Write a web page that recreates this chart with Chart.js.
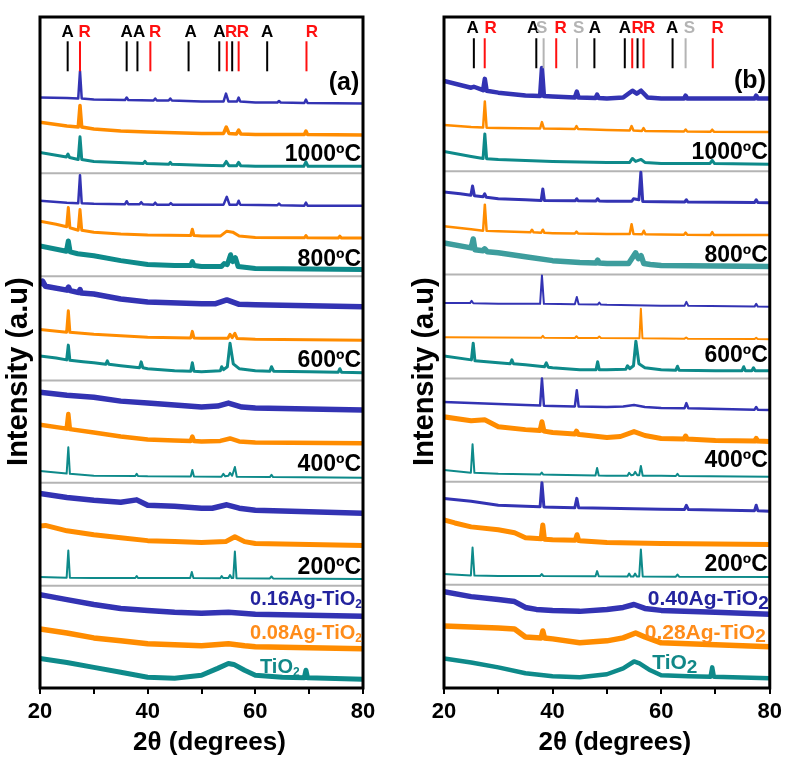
<!DOCTYPE html>
<html><head><meta charset="utf-8">
<script src="https://cdn.jsdelivr.net/npm/chart.js@4.4.1/dist/chart.umd.min.js"></script>
<style>
html,body{margin:0;padding:0;background:#fff;}
#wrap{position:relative;width:787px;height:758px;overflow:hidden;background:#fff;}
#ca{position:absolute;left:0;top:0;width:400px;height:758px;}
#cb{position:absolute;left:400px;top:0;width:387px;height:758px;}
</style></head><body>
<div id="wrap"><canvas id="ca" width="400" height="758"></canvas><canvas id="cb" width="387" height="758"></canvas></div>
<script>
// ---------------- DATA : panel (a) ----------------
const A_1000_blue = [[20,601],[25,600.5],[27.1,600],[27.43,628],[27.75,600],[30,599],[35.8,598.5],[36.1,601],[36.4,598.5],[41.1,598],[41.4,600],[41.7,598],[43.9,598],[44.2,600],[44.5,598],[50,597],[54.1,597],[54.55,605],[55.0,597],[56.6,597],[56.9,601],[57.2,597],[60,596],[64.1,596],[64.4,597.5],[64.7,596],[69.1,595.5],[69.4,599],[69.7,595.5],[80,595]];
const A_1000_orange = [[20,576],[25,572],[27.1,571],[27.43,593],[27.75,571],[30,569],[35,567],[40,566],[50,564.5],[54.1,564.5],[54.6,571],[55.1,564.5],[56.5,564],[56.9,568],[57.3,564],[60,563.5],[69.1,563.5],[69.4,567],[69.7,563.5],[80,563]];
const A_1000_teal = [[20,545],[24.9,540.5],[25.2,543.5],[25.5,540],[27.1,538],[27.43,561],[27.75,538],[30,536],[39.2,534],[39.5,536],[39.8,534],[43.9,533],[44.2,535],[44.5,533],[50,532],[54.1,531.5],[54.6,536],[55.1,531.5],[56.5,531.5],[56.9,535],[57.3,531.5],[60,531],[69.0,531],[69.4,535.5],[69.8,531],[80,531]];
const A_800_blue = [[20,496],[25,494],[27.1,493.5],[27.43,522],[27.75,493.5],[30,493],[35.8,492.5],[36.1,495.5],[36.4,492.5],[38.5,492.5],[38.8,494.5],[39.1,492.5],[41.1,492],[41.4,494],[41.7,492],[44.0,492],[44.3,493.5],[44.6,492],[50,492],[54.1,492],[54.7,500],[55.2,492],[56.6,492],[56.9,496],[57.2,492],[64.1,491.5],[64.4,493],[64.7,491.5],[69.1,491],[69.4,494],[69.7,491],[80,491]];
const A_800_orange = [[20,475],[23,472],[24.95,469.5],[25.26,489],[25.55,468.5],[27.1,466],[27.43,487],[27.75,466],[30,464],[35,462],[40,461],[48.0,460.5],[48.3,467],[48.6,460.5],[50,460],[53.5,460],[54.7,465],[55.8,464],[57,460],[60,458.5],[69.1,458.2],[69.4,460.5],[69.7,458.2],[75.4,458],[75.7,460],[76,458],[80,458]];
const A_800_teal = [[20,450],[24.9,444.5],[25.26,455],[25.6,444],[27,442],[30,440],[35,435],[40,431],[45,430],[48.0,430],[48.3,434],[48.6,430],[50,429],[53.7,429],[54.2,432],[54.8,431],[55.4,441],[55.8,434],[56.3,438],[56.8,429],[60,427],[80,426]];
const A_600_blue = [[20,410],[20.5,414],[21,409],[25,405],[25.3,408],[25.6,404.5],[27.2,402.5],[27.43,405.5],[27.7,402],[30,401],[35,396],[40,393],[50,391],[52.5,391],[54.7,395],[57,390.5],[60,390],[80,388]];
const A_600_orange = [[20,365],[24.95,362.2],[25.26,384],[25.55,362],[30,360],[40,357],[48.0,356.3],[48.3,363],[48.6,356.3],[50,356],[54.9,356],[55.3,360],[55.7,356.5],[56.2,361],[56.6,355.8],[60,355],[80,354]];
const A_600_teal = [[20,338],[23,336],[24.95,334],[25.26,349],[25.55,333.5],[28,332],[30,331],[32.2,329.5],[32.5,333],[32.8,329.5],[35,328],[38.5,326],[38.8,332],[39.1,326],[40,325],[45,323],[48.0,322.5],[48.3,331],[48.6,322.5],[50,322],[53.5,323],[53.75,327],[54.1,324],[54.8,327],[55.3,351],[55.9,330],[57,325],[60,323],[62.7,322.5],[63,327],[63.4,322.5],[70,322],[75.4,321.5],[75.7,325],[76,321.5],[80,321]];
const A_400_blue = [[20,301],[25,298],[30,296],[35,292],[40,290],[45,288],[50,286],[53,287],[55,290],[57.5,286],[60,285],[80,283]];
const A_400_orange = [[20,268],[24.95,264],[25.26,279],[25.55,263.5],[30,260],[35,256],[40,253],[45,252],[48.0,251.5],[48.3,256],[48.6,251.5],[50,251],[53.5,251.5],[55.3,254],[57,251],[60,250],[80,249]];
const A_400_teal = [[20,221],[24.95,218.3],[25.26,245],[25.55,218],[30,216],[37.7,215.8],[37.96,218],[38.2,215.8],[40,215.5],[48.0,215.2],[48.3,222],[48.6,215.2],[53.7,215],[54.06,218],[54.4,215.5],[55.0,216],[55.3,219],[55.7,216],[56.2,225],[56.55,215],[62.7,214.7],[63,217],[63.3,214.7],[80,214]];
const A_200_blue = [[20,198],[25,194],[30,191],[35,189],[37.96,191.5],[40,186],[45,185],[50,183],[52,183],[54.7,186.5],[57,183],[60,181],[80,178]];
const A_200_orange = [[20,165],[21,165.5],[25,160],[30,156],[35,153],[40,150],[45,149],[50,148],[54.5,149],[56.2,154],[58,149],[60,147],[80,145]];
const A_200_teal = [[20,113],[24.95,112.3],[25.26,140],[25.55,112.2],[30,112],[37.7,112],[37.96,114],[38.2,112],[47.9,112],[48.2,118],[48.5,112],[53.5,111.8],[53.75,114],[54,112],[55.0,112],[55.3,115],[55.6,112],[55.9,112],[56.2,139],[56.5,111.8],[62.7,111.5],[63,113.5],[63.3,111.5],[80,111]];
const A_raw_blue = [[20,95],[22,93],[25,90],[30,85],[35,81],[40,79],[45,77],[50,76],[55,77],[60,75],[70,74],[80,73]];
const A_raw_orange = [[20,60],[25,56],[30,51],[35,48],[40,45],[45,44],[50,43],[55,45],[58,43],[60,42],[70,41],[80,40]];
const A_raw_teal = [[20,30],[25,26],[30,21],[35,16],[40,11],[45,10],[50,13],[53,20],[55,25],[56,24],[58,18],[60,13],[65,11],[69.1,10.5],[69.4,18],[69.7,10.5],[80,9]];

const A_sep = [524, 419, 313, 209, 104];
const A_refA = [25.14, 36.1, 38.1, 47.6, 53.3, 55.7, 62.2];
const A_refR = [27.43, 40.5, 54.7, 56.9, 69.5];
const A_refS = [];
const A_refLabels = [['A',25.14],['R',28.3],['A',36.1],['A',38.4],['R',41.4],['A',48.0],['A',53.3],['R',55.5],['R',57.7],['A',62.2],['R',70.5]];
const A_temps = [['1000ºC',543],['800ºC',436],['600ºC',333],['400ºC',227],['200ºC',123]];
const A_comps = [['0.16Ag-TiO','2',90,'blue'],['0.08Ag-TiO','2',55,'orange'],['TiO','2',21,'teal']];

// ---------------- DATA : panel (b) ----------------
const B_1000_blue = [[20,618],[25,611],[25.5,612],[27.2,608.5],[27.52,620],[27.85,608],[30,606],[35,603],[37.7,602.5],[38.04,631],[38.4,602.5],[40,602],[44.1,601],[44.46,607],[44.8,601],[47.9,600.5],[48.2,604],[48.5,600.5],[50,600],[53,601],[54.7,608],[55.5,605],[56.3,608],[57.5,601],[60,600],[64.2,600],[64.5,603],[64.8,600],[77.2,600],[77.5,603],[77.8,600],[80,600]];
const B_1000_orange = [[20,573],[25,571],[27.2,570.5],[27.52,597],[27.85,570.3],[30,570],[37.7,569.5],[38.04,576],[38.4,569.5],[44.1,569],[44.4,572],[44.7,569],[50,568],[54.2,567.5],[54.55,572],[54.9,567.5],[56.45,567],[56.75,570],[57.05,567],[64.2,566.5],[64.5,568.5],[64.8,566.5],[69.1,566.3],[69.4,568.3],[69.7,566.3],[80,566]];
const B_1000_teal = [[20,546],[25,541],[27.2,539],[27.52,564],[27.85,538.8],[30,538],[35,537],[40,536],[50,535],[54.2,535],[54.7,539],[55.3,536],[56.3,538],[57,535],[60,534],[69.0,534],[69.4,537],[69.8,534],[80,533]];
const B_800_blue = [[20,505],[23,503],[24.95,501.5],[25.26,511],[25.6,501],[27.2,500],[27.5,503],[27.8,499.5],[30,498],[35,497],[37.9,496.3],[38.2,508],[38.5,496.3],[44.2,496],[44.46,498],[44.7,496],[48.0,495.8],[48.3,498],[48.6,495.8],[50,495.5],[54.6,495.5],[54.9,498],[55.9,497],[56.26,525],[56.6,495.2],[60,495],[64.35,494.8],[64.64,497],[64.9,494.8],[77.2,494.2],[77.5,497],[77.8,494.2],[80,494]];
const B_800_orange = [[20,470],[25,467],[27.2,465.5],[27.52,492],[27.85,465.3],[30,465],[35.9,463.8],[36.2,466.5],[36.5,463.8],[37.9,463.4],[38.2,466.5],[38.5,463.3],[40,463],[44.1,462.6],[44.4,464.5],[44.7,462.6],[50,462],[54.2,462],[54.55,472],[54.9,462],[56.5,461.8],[56.8,465.5],[57.1,461.8],[60,461.5],[64.2,461.4],[64.5,463.5],[64.8,461.4],[69.1,461.2],[69.4,464],[69.7,461.2],[80,461]];
const B_800_teal = [[20,453],[25,448],[25.38,457],[25.7,446],[27.2,445],[27.5,447],[28,444],[30,443],[35,439],[40,435],[45,433],[48.0,432.5],[48.3,435.5],[48.6,432.5],[50,432],[54,432],[55.3,443],[55.8,437],[56.3,440],[56.8,432],[58,431],[60,430],[80,429]];
const B_600_blue = [[20,392],[24.8,391.8],[25.08,394],[25.4,391.6],[30,391],[37.7,391],[38.04,420],[38.4,391],[44.1,390.6],[44.46,398],[44.8,390.5],[48.3,390.3],[48.6,392.3],[48.9,390.3],[50,390],[60,389],[64.3,389],[64.64,393],[65.0,389],[77.2,388.2],[77.5,391],[77.8,388.2],[80,388]];
const B_600_orange = [[20,357],[37.9,356.5],[38.2,358.5],[38.5,356.5],[44.1,356.3],[44.4,358],[44.7,356.3],[48.3,356.2],[48.6,357.7],[48.9,356.2],[56.0,356],[56.26,386],[56.55,356],[64.3,355.6],[64.6,356.8],[64.9,355.6],[77.2,355.2],[77.5,356.4],[77.8,355.2],[80,355]];
const B_600_teal = [[20,338],[25.05,334],[25.38,351],[25.7,333],[30,331],[32.2,330],[32.5,334],[32.8,330],[35,329],[38.5,327],[38.84,331],[39.2,326.5],[40,326],[45,324],[48.0,324],[48.3,332],[48.6,324],[50,324],[53.5,324.5],[53.8,328],[54.2,325],[54.9,328],[55.34,353],[55.9,330],[57,326],[60,324],[62.7,323.5],[63,327.5],[63.3,323.5],[70,323],[74.9,323],[75.2,327],[75.5,323],[76.7,323],[77,326],[77.3,323],[80,323]];
const B_400_blue = [[20,291],[25,290],[30,289],[35,288],[37.7,287.5],[38.04,315],[38.4,287.3],[40,287],[44.1,286.6],[44.46,303],[44.8,286.5],[50,286],[53,286.5],[55,288],[57,286],[60,285],[64.3,284.8],[64.64,290],[65,284.8],[77.2,283.3],[77.5,286],[77.8,283.3],[80,283]];
const B_400_orange = [[20,276],[25,272],[27.5,273],[30,266],[35,263],[37.7,262],[38.04,271],[38.4,261.5],[40,260],[44.1,258.5],[44.4,261.5],[44.7,258.3],[45,258],[50,255],[52.5,256],[55,261],[57,257],[58,256],[60,254],[64.2,253.5],[64.5,256.5],[64.8,253.5],[70,252],[77.2,251.3],[77.5,254],[77.8,251.3],[80,251]];
const B_400_teal = [[20,222],[24.95,219.2],[25.26,248],[25.6,219],[30,218],[37.7,217.3],[38,219.3],[38.3,217.3],[40,217],[47.9,216.3],[48.2,224],[48.5,216.3],[50,216],[53.8,216],[54.1,219],[54.5,216.5],[54.9,217],[55.2,220],[55.6,216.5],[55.95,216.5],[56.26,226],[56.6,216],[60,216],[62.7,215.8],[63,218],[63.3,215.8],[80,215]];
const B_200_blue = [[20,193],[25,190],[30,186],[35,185],[37.7,184.5],[38.04,209],[38.4,184.3],[40,184],[44.1,183.6],[44.46,193],[44.8,183.5],[50,183],[60,182],[64.3,181.8],[64.64,186],[65,181.8],[77.2,180.5],[77.5,186],[77.8,180.5],[80,180]];
const B_200_orange = [[20,171],[22,168],[25,164],[30,161],[33,158],[35,153],[37.9,152],[38.2,166],[38.5,151.5],[40,151],[44.2,150.5],[44.5,156],[44.8,150.2],[45,150],[50,148],[60,147],[80,146]];
const B_200_teal = [[20,116],[24.95,114.6],[25.26,143],[25.6,114.4],[30,114],[37.7,114],[38,116],[38.3,114],[47.9,113.8],[48.2,119],[48.5,113.8],[53.8,113.6],[54.1,116.5],[54.4,113.6],[54.9,113.6],[55.2,116.5],[55.5,113.6],[55.95,113.5],[56.26,141],[56.6,113.5],[62.7,113.3],[63,115.5],[63.3,113.3],[80,113]];
const B_raw_blue = [[20,98],[25,93],[30,90],[33,88],[35,82],[37,80],[40,79],[45,78],[50,80],[53,82],[55,85],[57,81],[60,79],[70,77],[80,75]];
const B_raw_orange = [[20,63],[25,62],[30,61],[33,60],[35,52],[37.9,51],[38.2,58],[38.5,51],[40,50],[45,46],[50,48],[53,51],[55.3,56],[57,52],[60,46],[70,44],[80,42]];
const B_raw_teal = [[20,30],[25,26],[30,21],[35,15],[40,12],[45,11],[50,14],[53,20],[55,27],[56,25],[58,18],[60,13],[65,12],[69.1,11.5],[69.4,21],[69.7,11.5],[80,10]];

const B_sep = [526, 421, 315, 210, 105];
const B_refA = [25.5, 37.0, 47.7, 53.3, 55.65, 62.1];
const B_refR = [27.5, 40.67, 54.67, 56.75, 69.5];
const B_refS = [38.35, 44.5, 64.5];
const B_refLabels = [['A',25.26],['R',28.6],['A',36.4],['S',38.0],['R',41.5],['S',44.8],['A',47.8],['A',53.3],['R',55.65],['R',57.8],['A',62.0],['S',65.2],['R',70.4]];
const B_temps = [['1000ºC',545],['800ºC',440],['600ºC',338],['400ºC',231],['200ºC',126]];
const B_comps = [['0.40Ag-TiO','2',90,'blue'],['0.28Ag-TiO','2',56,'orange'],['TiO','2',25,'teal']];

const X_TITLE = '2θ (degrees)';
const Y_TITLE = 'Intensity (a.u)';

// ---------------- STYLE ----------------
const FONT = "'Liberation Sans', Arial, Helvetica, sans-serif";
const COL = {blue:'#3333b3', orange:'#ff8c00', teal:'#0e8a8a', tealLight:'#3d9d9d'};
const LABCOL = {blue:'#23239e', orange:'#ff8c1a', teal:'#118888'};
const REFCOL = {A:'#000000', R:'#ff1010', S:'#b4b4b4'};

function traceSet(list){
  return list.map(([data,color,w])=>({data, borderColor:color, borderWidth:w, pointRadius:0, fill:false, tension:0, order:2, borderJoinStyle:'round'}));
}

function buildPanel(canvasId, traces, seps, refs, refLabels, temps, comps, tag, tagPos, opt){
  const ds = [];
  seps.forEach(v=>ds.push({data:[[20,v],[80,v]], borderColor:'#b4b4b4', borderWidth:2, pointRadius:0, order:3}));
  traceSet(traces).forEach(d=>ds.push(d));
  Object.entries(refs).forEach(([k,arr])=>{
    if(!arr.length) return;
    ds.push({data:arr.map(x=>[x,opt.refY]), showLine:false, pointStyle:'line', pointRotation:90,
      pointRadius:15, pointHoverRadius:15, pointBorderWidth:2, borderWidth:2,
      borderColor:REFCOL[k], pointBorderColor:REFCOL[k], backgroundColor:REFCOL[k], order:1});
  });
  const decor = {
    id:'decor'+canvasId,
    afterDatasetsDraw(chart){
      const {ctx, chartArea:ca, scales:{x,y}} = chart;
      ctx.save();
      ctx.strokeStyle='#000'; ctx.lineWidth=3;
      ctx.strokeRect(ca.left, ca.top, ca.right-ca.left, ca.bottom-ca.top);
      ctx.textBaseline='middle';
      // reference phase labels
      ctx.font='bold 17px '+FONT; ctx.textAlign='center';
      refLabels.forEach(([t,xv])=>{ctx.fillStyle=REFCOL[t]; ctx.fillText(t, x.getPixelForValue(xv), y.getPixelForValue(opt.refLabY));});
      // temperature labels
      ctx.font='bold 23px '+FONT; ctx.textAlign='right'; ctx.fillStyle='#000';
      temps.forEach(([t,yv])=>ctx.fillText(t, ca.right-2, y.getPixelForValue(yv)));
      // panel tag
      ctx.font='bold 25px '+FONT;
      ctx.fillText(tag, x.getPixelForValue(tagPos[0]), y.getPixelForValue(tagPos[1]));
      // composition labels with subscript
      comps.forEach(([main,sub,yv,c])=>{
        const fMain='bold '+opt.compSize+'px '+FONT, fSub='bold '+Math.round(opt.compSize*opt.subRatio)+'px '+FONT;
        ctx.font=fMain; const wm=ctx.measureText(main).width;
        ctx.font=fSub; const ws=ctx.measureText(sub).width;
        let x0;
        if(c==='teal') x0 = x.getPixelForValue(opt.tiX);
        else x0 = ca.right - 1 - (wm+ws) - (c==='orange'? opt.orangeShift:0);
        const yy = y.getPixelForValue(yv);
        ctx.textAlign='left'; ctx.fillStyle=LABCOL[c];
        ctx.font=fMain; ctx.fillText(main, x0, yy);
        ctx.font=fSub; ctx.fillText(sub, x0+wm, yy+opt.subDrop);
      });
      // axis titles
      ctx.fillStyle='#000'; ctx.textAlign='center'; ctx.textBaseline='middle';
      ctx.font='bold 26px '+FONT;
      ctx.fillText(X_TITLE, (ca.left+ca.right)/2 + 8, chart.height - 15);
      ctx.save();
      ctx.translate(opt.yTitleX, y.getPixelForValue(opt.yTitleV));
      ctx.rotate(-Math.PI/2);
      ctx.font='bold 29px '+FONT;
      ctx.fillText(Y_TITLE, 0, 0);
      ctx.restore();
      ctx.restore();
    }
  };
  return new Chart(document.getElementById(canvasId), {
    type:'line',
    data:{datasets:ds},
    options:{
      responsive:false, animation:false,
      layout:{padding:{top:5,right:opt.padR,bottom:0,left:opt.padL}},
      plugins:{legend:{display:false}, tooltip:{enabled:false}},
      events:[],
      scales:{
        x:{type:'linear', min:20, max:80,
          ticks:{stepSize:10, autoSkip:false, maxRotation:0, padding:5, color:'#000',
            font:{family:FONT, size:22, weight:'bold'}, callback:v=>(v%20===0? String(v):'')},
          grid:{display:true, drawOnChartArea:false, drawTicks:true, tickLength:6, color:'#000', lineWidth:2},
          border:{display:false},
          title:{display:false},
          afterFit:s=>{s.height=70;}
        },
        y:{type:'linear', min:0, max:683, display:false}
      }
    },
    plugins:[decor]
  });
}

buildPanel('ca', [
  [A_1000_blue,COL.blue,2.5],[A_1000_orange,COL.orange,3.5],[A_1000_teal,COL.teal,3],
  [A_800_blue,COL.blue,2.5],[A_800_orange,COL.orange,3],[A_800_teal,COL.teal,5],
  [A_600_blue,COL.blue,5.5],[A_600_orange,COL.orange,3],[A_600_teal,COL.teal,3],
  [A_400_blue,COL.blue,5.5],[A_400_orange,COL.orange,4.5],[A_400_teal,COL.teal,2],
  [A_200_blue,COL.blue,5.5],[A_200_orange,COL.orange,5],[A_200_teal,COL.teal,2],
  [A_raw_blue,COL.blue,5.5],[A_raw_orange,COL.orange,5.5],[A_raw_teal,COL.teal,5]
], A_sep, {A:A_refA, R:A_refR, S:A_refS}, A_refLabels, A_temps, A_comps, '(a)', [79.3,616],
 {refY:643, refLabY:667, padR:37, padL:40, yTitleX:19, yTitleV:322, compSize:20, subRatio:0.6, subDrop:5, tiX:60.87, orangeShift:0});

buildPanel('cb', [
  [B_1000_blue,COL.blue,4.5],[B_1000_orange,COL.orange,2.5],[B_1000_teal,COL.teal,3],
  [B_800_blue,COL.blue,3],[B_800_orange,COL.orange,2.5],[B_800_teal,COL.tealLight,5.5],
  [B_600_blue,COL.blue,2],[B_600_orange,COL.orange,2],[B_600_teal,COL.teal,3],
  [B_400_blue,COL.blue,2.5],[B_400_orange,COL.orange,5],[B_400_teal,COL.teal,2],
  [B_200_blue,COL.blue,3],[B_200_orange,COL.orange,5],[B_200_teal,COL.teal,2],
  [B_raw_blue,COL.blue,5.5],[B_raw_orange,COL.orange,5.5],[B_raw_teal,COL.teal,4.5]
], B_sep, {A:B_refA, R:B_refR, S:B_refS}, B_refLabels, B_temps, B_comps, '(b)', [79.3,618],
 {refY:646, refLabY:671, padR:16, padL:44, yTitleX:25, yTitleV:322, compSize:21, subRatio:0.9, subDrop:4, tiX:58.35, orangeShift:3});
</script>
</body></html>
